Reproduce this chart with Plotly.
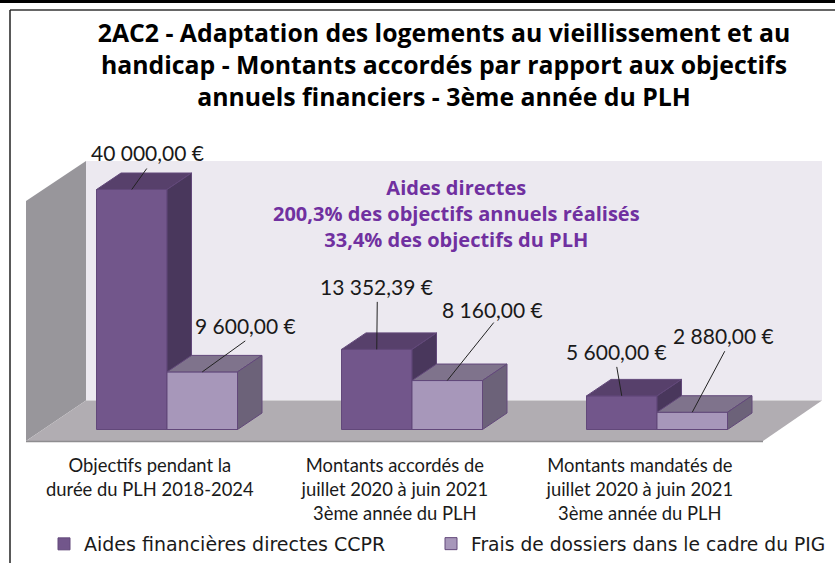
import plotly.graph_objects as go

categories = ["Objectifs pendant la<br>durée du PLH 2018-2024",
              "Montants accordés de<br>juillet 2020 à juin 2021<br>3ème année du PLH",
              "Montants mandatés de<br>juillet 2020 à juin 2021<br>3ème année du PLH"]
group_pos = [1, 2, 3]
aides = [40000.00, 13352.39, 5600.00]
frais = [9600.00, 8160.00, 2880.00]
aides_labels = ["40 000,00 €", "13 352,39 €", "5 600,00 €"]
frais_labels = ["9 600,00 €", "8 160,00 €", "2 880,00 €"]
series_names = ["Aides financières directes CCPR", "Frais de dossiers dans le cadre du PIG"]
title_text = ("2AC2 - Adaptation des logements au vieillissement et au<br>"
              "handicap - Montants accordés par rapport aux objectifs<br>"
              "annuels financiers - 3ème année du PLH")
note_text = ("Aides directes<br>200,3% des objectifs annuels réalisés<br>"
             "33,4% des objectifs du PLH")

# geometry helpers (style only)
W, H, PH = 835, 563, 450
PX_X, X1_PX = 245.0, 167.0
PX_Y, Y0_PX = 0.006, 429.5
xr = [1 - X1_PX / PX_X, 1 - X1_PX / PX_X + W / PX_X]
yr = [-(PH - Y0_PX) / PX_Y, Y0_PX / PX_Y]
BW = 70.5 / PX_X
DX, DY = 24.5 / PX_X, 16.5 / PX_Y
LAB_FONT = "Lato"

def fx(p): return p / W
def fy(p): return 1 - p / PH
def path(pts):
    return "M" + "L".join(f"{fx(a):.5f},{fy(b):.5f}" for a, b in pts) + "Z"

fig = go.Figure()

def add_series(vals, name, front, top, side, edge, off, xa, ya, leg):
    fig.add_trace(go.Bar(x=group_pos, y=vals, name=name, width=BW, offset=off, legend=leg,
                         marker=dict(color=front, line=dict(color=edge, width=1)),
                         xaxis=xa, yaxis=ya))
    for g, v in zip(group_pos, vals):
        l, r = g + off, g + off + BW
        fig.add_trace(go.Scatter(x=[l, r, r + DX, l + DX, l], y=[v, v, v + DY, v + DY, v],
                                 fill="toself", fillcolor=top, mode="lines",
                                 line=dict(color=edge, width=1), showlegend=False,
                                 hoverinfo="skip", xaxis=xa, yaxis=ya))
        fig.add_trace(go.Scatter(x=[r, r + DX, r + DX, r, r], y=[v, v + DY, DY, 0, v],
                                 fill="toself", fillcolor=side, mode="lines",
                                 line=dict(color=edge, width=1), showlegend=False,
                                 hoverinfo="skip", xaxis=xa, yaxis=ya))

add_series(aides, series_names[0], "#72568b", "#57406b", "#49375c", "#62487a", -BW, "x", "y", "legend")
add_series(frais, series_names[1], "#a797ba", "#7f738c", "#6c6279", "#62487a", 0, "x2", "y2", "legend2")

# leader lines + labels: offsets in px from the top-centre of each bar's front face
offs_a = [((15, -21), (15.5, -37.5)), ((0.5, -47.5), (0, -63)), ((-5, -29), (-5.5, -44.5))]
offs_f = [((43, -31), (43, -46)), ((46.5, -58), (45, -71.5)), ((32.5, -61), (31.5, -76.5))]
anns = []
for vals, labs, off, offs in ((aides, aides_labels, -BW / 2, offs_a), (frais, frais_labels, BW / 2, offs_f)):
    for g, v, lab, (end, txt) in zip(group_pos, vals, labs, offs):
        cx = g + off
        fig.add_trace(go.Scatter(x=[cx, cx + end[0] / PX_X], y=[v, v - end[1] / PX_Y], mode="lines",
                                 line=dict(color="#222222", width=1), showlegend=False,
                                 hoverinfo="skip", xaxis="x2", yaxis="y2"))
        anns.append(dict(x=cx + txt[0] / PX_X, y=v - txt[1] / PX_Y, xref="x2", yref="y2", text=lab,
                         showarrow=False, xanchor="center", yanchor="middle",
                         font=dict(family=LAB_FONT, size=21, color="#1a1a1a")))

anns.append(dict(x=fx(456), y=fy(214), xref="paper", yref="paper", text="<b>" + note_text.replace("<br>", "</b><br><b>") + "</b>",
                 showarrow=False, xanchor="center", yanchor="middle", align="center",
                 font=dict(family="Open Sans", size=20, color="#7030a0")))

shapes = [
    dict(type="path", path=path([(86, 161), (822, 161), (822, 400.5), (86, 400.5)]),
         xref="paper", yref="paper", fillcolor="#ece9f0", line=dict(width=0), layer="below"),
    dict(type="path", path=path([(26, 201), (86, 161), (86, 400.5), (26, 441)]),
         xref="paper", yref="paper", fillcolor="#98969b", line=dict(width=0), layer="below"),
    dict(type="path", path=path([(86, 400.5), (822, 400.5), (763, 441), (26, 441)]),
         xref="paper", yref="paper", fillcolor="#b1adb2", line=dict(width=0), layer="below"),
    dict(type="line", x0=fx(26), x1=fx(763), y0=fy(441.5), y1=fy(441.5), xref="paper", yref="paper",
         line=dict(color="#8e8d90", width=1.5), layer="below"),
    dict(type="rect", x0=0, x1=1, y0=fy(0), y1=fy(3), xref="paper", yref="paper",
         fillcolor="#000000", line=dict(width=0)),
    dict(type="line", x0=fx(10), x1=1, y0=fy(10), y1=fy(10), xref="paper", yref="paper",
         line=dict(color="#333333", width=1.5)),
    dict(type="line", x0=fx(10), x1=fx(10), y0=fy(10), y1=fy(H), xref="paper", yref="paper",
         line=dict(color="#222222", width=1.5)),
]

fig.update_layout(
    width=W, height=H, autosize=False,
    margin=dict(l=0, r=0, t=0, b=H - PH, pad=0),
    paper_bgcolor="white", plot_bgcolor="white",
    barmode="overlay",
    showlegend=True,
    title=dict(text="<b>" + title_text.replace("<br>", "</b><br><b>") + "</b>", x=444 / W, xanchor="center",
               y=1 - 42 / H, yanchor="top",
               font=dict(family="Open Sans", size=24.8, color="#000000")),
    xaxis=dict(range=xr, tickvals=[g - 0.07 for g in group_pos], ticktext=categories, showgrid=False,
               zeroline=False, showline=False, ticks="", ticklabelstandoff=3, tickangle=0,
               tickfont=dict(family=LAB_FONT, size=18.4, color="#1a1a1a")),
    yaxis=dict(range=yr, visible=False, showgrid=False, zeroline=False),
    xaxis2=dict(range=xr, overlaying="x", visible=False, showgrid=False, zeroline=False),
    yaxis2=dict(range=yr, overlaying="y", visible=False, showgrid=False, zeroline=False),
    legend=dict(x=fx(44), y=fy(525), xanchor="left", yanchor="top", borderwidth=0,
                bgcolor="rgba(0,0,0,0)", font=dict(family="DejaVu Sans", size=19, color="#1a1a1a")),
    legend2=dict(x=fx(431), y=fy(525), xanchor="left", yanchor="top", borderwidth=0,
                 bgcolor="rgba(0,0,0,0)", font=dict(family="DejaVu Sans", size=18.7, color="#1a1a1a")),
    shapes=shapes, annotations=anns,
)
fig.write_html("out.html", config={"displayModeBar": False},
               post_script="document.body.style.margin='0';document.documentElement.style.overflow='hidden';")
